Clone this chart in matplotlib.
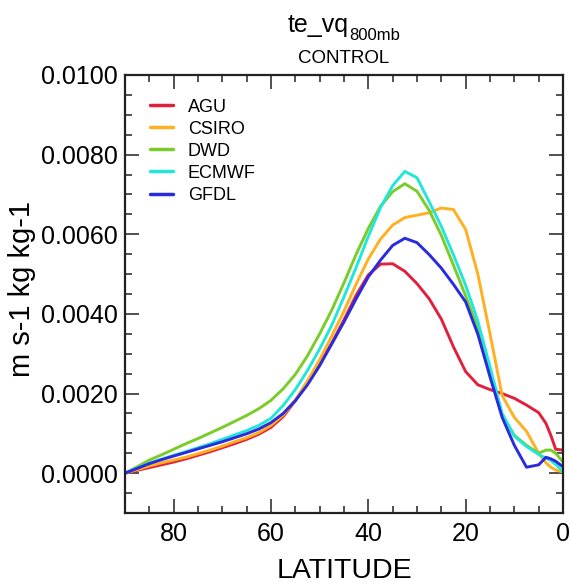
import matplotlib
matplotlib.use('Agg')
import matplotlib.pyplot as plt
from matplotlib.ticker import MultipleLocator, FormatStrFormatter

plt.rcParams['font.family'] = ['Liberation Sans', 'DejaVu Sans']

# ---------------- data (values in units of 1e-3 m s-1 kg kg-1) ----------------
lat = [90, 87.5, 85, 82.5, 80, 77.5, 75, 72.5, 70, 67.5, 65, 62.5, 60, 57.5, 55,
       52.5, 50, 47.5, 45, 42.5, 40, 37.5, 35, 32.5, 30, 27.5, 25, 22.5, 20,
       17.5, 15, 12.5, 10, 7.5, 5, 3.5, 2.5, 1.5, 0]

agu = [0, 0.07, 0.14, 0.21, 0.28, 0.36, 0.45, 0.54, 0.64, 0.74, 0.85, 0.98, 1.15,
       1.42, 1.82, 2.26, 2.74, 3.27, 3.85, 4.47, 4.98, 5.25, 5.26, 5.07, 4.76,
       4.38, 3.87, 3.17, 2.55, 2.22, 2.1, 2.0, 1.88, 1.71, 1.52, 1.25, 0.95, 0.6, 0.58]

csiro = [0, 0.09, 0.18, 0.26, 0.33, 0.40, 0.49, 0.58, 0.68, 0.79, 0.89, 1.02, 1.2,
         1.46, 1.84, 2.32, 2.85, 3.45, 4.07, 4.75, 5.38, 5.88, 6.23, 6.42, 6.48,
         6.54, 6.66, 6.62, 6.12, 5.0, 3.5, 1.95, 1.4, 1.05, 0.5, 0.26, 0.15, 0.08, 0.03]

dwd = [0, 0.16, 0.33, 0.46, 0.60, 0.74, 0.87, 1.01, 1.15, 1.30, 1.45, 1.62, 1.83,
       2.12, 2.48, 2.95, 3.5, 4.1, 4.78, 5.5, 6.15, 6.7, 7.07, 7.27, 7.08, 6.6,
       5.97, 5.22, 4.45, 3.64, 2.5, 1.45, 0.95, 0.7, 0.5, 0.58, 0.58, 0.5, 0.28]

ecmwf = [0, 0.13, 0.25, 0.35, 0.45, 0.54, 0.64, 0.74, 0.85, 0.96, 1.07, 1.2, 1.38,
         1.7, 2.1, 2.58, 3.12, 3.72, 4.43, 5.17, 5.95, 6.67, 7.22, 7.58, 7.42, 6.82,
         6.2, 5.48, 4.72, 3.82, 2.67, 1.5, 0.93, 0.67, 0.47, 0.38, 0.32, 0.22, 0.04]

gfdl = [0, 0.12, 0.24, 0.34, 0.43, 0.52, 0.61, 0.70, 0.79, 0.89, 0.99, 1.11, 1.27,
        1.5, 1.82, 2.22, 2.7, 3.25, 3.8, 4.38, 4.93, 5.35, 5.72, 5.9, 5.79, 5.49,
        5.15, 4.74, 4.3, 3.49, 2.42, 1.4, 0.7, 0.15, 0.21, 0.4, 0.36, 0.3, 0.16]

names = ['AGU', 'CSIRO', 'DWD', 'ECMWF', 'GFDL']
series = [agu, csiro, dwd, ecmwf, gfdl]
colors = ['#e1203c', '#ffb020', '#7acc29', '#22e6d8', '#2a2ae0']
SCALE = 1e-3

# ---------------- figure ----------------
W, H = 571, 584
fig = plt.figure(figsize=(W / 100, H / 100), dpi=100)
ax = fig.add_axes([125 / W, 71 / H, 438 / W, 438 / H])

for name, vals, col in zip(names, series, colors):
    ax.plot(lat, [v * SCALE for v in vals], color=col, lw=2.1, label=name,
            solid_joinstyle='round', solid_capstyle='round')

ax.set_xlim(90, 0)
ax.set_ylim(-0.001, 0.01)
ax.xaxis.set_major_locator(MultipleLocator(20))
ax.xaxis.set_minor_locator(MultipleLocator(5))
ax.yaxis.set_major_locator(MultipleLocator(0.002))
ax.yaxis.set_minor_locator(MultipleLocator(0.0005))
ax.yaxis.set_major_formatter(FormatStrFormatter('%.4f'))

ax.tick_params(which='both', direction='in', top=True, right=True, width=1.1,
               color='#222222')
ax.tick_params(which='major', length=10, labelsize=18)
ax.tick_params(which='minor', length=5)
ax.tick_params(axis='x', which='major', pad=6.5)
ax.tick_params(axis='y', which='major', pad=5)
for sp in ax.spines.values():
    sp.set_linewidth(1.6)
    sp.set_color('#222222')

leg = ax.legend(loc='upper left', bbox_to_anchor=(0.057, 0.946), frameon=False,
                fontsize=13, handlelength=1.3, handletextpad=0.8,
                labelspacing=0.28, borderaxespad=0, borderpad=0)
for line in leg.get_lines():
    line.set_linewidth(2.5)

# axis labels
fig.text(344 / W, 1 - 578 / H, 'LATITUDE', ha='center', va='baseline', fontsize=20.5)
fig.text(22 / W, 295 / H, 'm s-1 kg kg-1', ha='center', va='center',
         rotation=90, fontsize=21)

# titles
t1 = fig.text(0, 1 - 31.7 / H, 'te_vq', ha='left', va='baseline', fontsize=18)
t2 = fig.text(0, 1 - 40 / H, '800mb', ha='left', va='baseline', fontsize=12)
fig.canvas.draw()
r = fig.canvas.get_renderer()
w1 = t1.get_window_extent(r).width
w2 = t2.get_window_extent(r).width
start = 344 - (w1 + w2) / 2
t1.set_x(start / W)
t2.set_x((start + w1) / W)
fig.text(344 / W, 1 - 63.3 / H, 'CONTROL', ha='center', va='baseline', fontsize=13.5)

fig.savefig('out.png', dpi=100)
